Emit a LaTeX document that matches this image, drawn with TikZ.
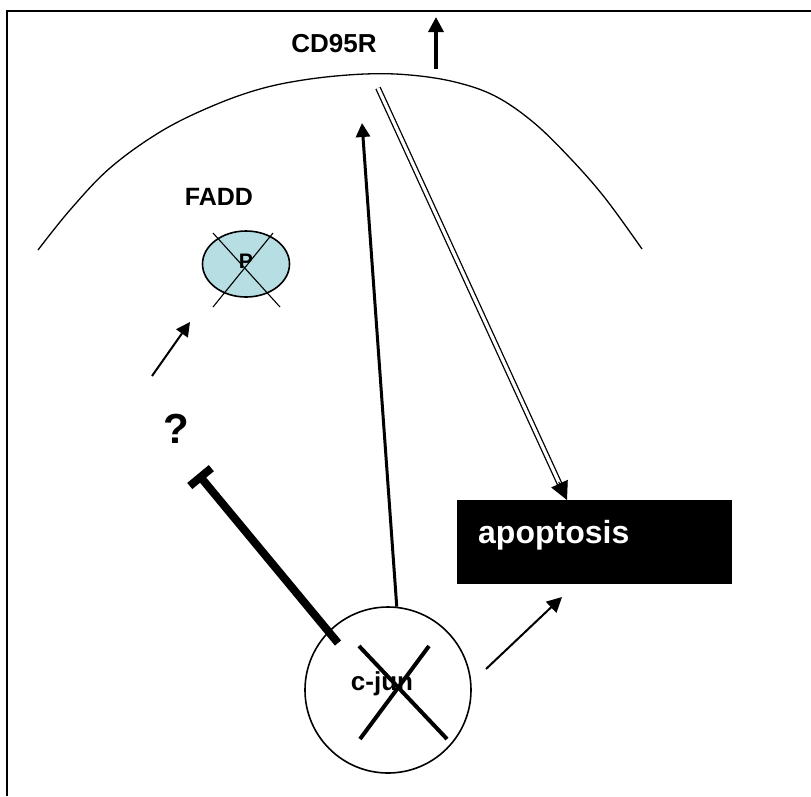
\documentclass[tikz,border=0pt]{standalone}
\usepackage{fontspec}
\setmainfont{Liberation Sans}
\usetikzlibrary{arrows.meta,calc,shapes.geometric}
\definecolor{faddblue}{RGB}{183,223,227}
\begin{document}
\begin{tikzpicture}[x=1pt,y=-1pt,
  lbl/.style={font=\bfseries\fontsize{#1}{#1}\selectfont, inner sep=0pt, anchor=base},
  tipA/.style={-{Triangle[length=#1,width=#1]}},
  cross/.style={line width=1.1pt},
]
\useasboundingbox (0,0) rectangle (811,796);
% frame (only top and left edges visible)
\draw[line width=2pt] (7,796) -- (7,11) -- (811,11);
% membrane
\draw[line width=1.3pt] plot[smooth, tension=0.6] coordinates {(38,250) (70,210) (110,168) (160,132) (210,107) (260,89) (310,79) (365,74) (410,75) (455,82) (495,96) (533,122) (570,158) (605,198) (642,249)};
% labels
\node[lbl=26] (cd95r) at (334,52) {CD95R};
\node[lbl=25] (faddlbl) at (219,205) {FADD};
\node[lbl=42] (q) at (176,443) {?};
% FADD ellipse
\node[ellipse, draw, line width=1.6pt, fill=faddblue, minimum width=87pt, minimum height=66pt, inner sep=0pt] (fadd) at (246,264) {};
\node[lbl=21] (p) at (246,268) {P};
\coordinate (fx1) at (213,233); \coordinate (fx2) at (280,307);
\coordinate (fx3) at (273,233); \coordinate (fx4) at (213,307);
\draw[cross] (fx1) -- (fx2);
\draw[cross] (fx3) -- (fx4);
% c-jun
\node[circle, draw, line width=1.6pt, minimum size=166pt, inner sep=0pt] (cjun) at (388,690) {};
\node[lbl=26] (cjuntxt) at (382,690) {c-jun};
\coordinate (cx1) at (359,646); \coordinate (cx2) at (447,739);
\coordinate (cx3) at (429,646); \coordinate (cx4) at (360,739);
\draw[line width=4pt] (cx1) -- (cx2);
\draw[line width=4pt] (cx3) -- (cx4);
% apoptosis
\node[fill=black, minimum width=275pt, minimum height=84pt, inner sep=0pt] (apop) at (594.5,542) {};
\node[lbl=32, text=white, anchor=base west] (apoptxt) at (478,543) {apoptosis};
% coordinates
\coordinate (upS) at (436,69); \coordinate (upE) at (436,17);
\coordinate (qa1) at (152,376); \coordinate (qa2) at (190,322);
\coordinate (memb) at (362,123);
\coordinate (dblS) at (378,88); \coordinate (dblE) at (567,500);
\coordinate (inhS) at (338,643); \coordinate (inhE) at (198,474);
\coordinate (caS) at (486,669); \coordinate (caE) at (562,597);
% arrows
\draw[line width=3.5pt, tipA=15pt] (upS) -- (upE);
\draw[line width=2pt, tipA=14pt] (qa1) -- (qa2);
\draw[line width=3pt, tipA=14pt] (cjun.84) -- (memb);
\draw[line width=1.3pt, double, double distance=3.2pt, shorten >=14pt] (dblS) -- (dblE);
\draw[line width=1pt, tipA=18pt] ($(dblE)!20pt!(dblS)$) -- (dblE);
\draw[line width=8pt, -{Bar[width=28pt]}] (inhS) -- (inhE);
\draw[line width=2pt, tipA=15pt] (caS) -- (caE);
\end{tikzpicture}
\end{document}
